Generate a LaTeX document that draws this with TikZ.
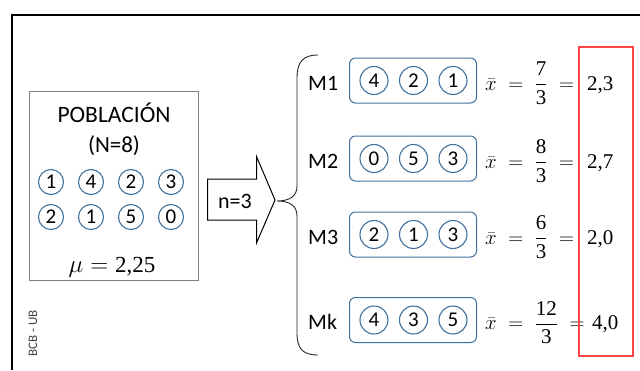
\documentclass[tikz,border=0pt]{standalone}
\usepackage{amsmath}
\usepackage{fontspec}
\setmainfont{Carlito}
\newfontfamily\xifres{Liberation Serif}
\usepackage{tikz}
\usetikzlibrary{calc}
\definecolor{bolablau}{HTML}{41719C}
\definecolor{marcvermell}{HTML}{FF4545}
\def\mida#1{\fontsize{#1}{#1}\selectfont}
\def\xf#1{\text{\xifres #1}}
\tikzset{
	bola/.style={circle, draw=bolablau, line width=1.1pt, minimum size=25pt, inner sep=0pt, font=\mida{21}},
	bolamostra/.style={bola, minimum size=28pt},
	caixamostra/.style={draw=bolablau, line width=1pt, rounded corners=6pt, minimum width=127pt, minimum height=45pt, inner sep=0pt},
	caixapob/.style={draw=black!50, line width=1pt, minimum width=169pt, minimum height=189pt, inner sep=0pt},
	txt/.style={inner sep=0pt, anchor=base, font=\mida{#1}},
	txtw/.style={inner sep=0pt, anchor=base west, font=\mida{#1}},
}

\begin{document}
\begin{tikzpicture}[x=1pt, y=-1pt]
			%%%%% START %%%%%
			\useasboundingbox (0, 0) rectangle (640, 370);
			
			\draw[line width=2pt] (12, 370) -- (12, 14.5) -- (640, 14.5);
			
			% poblacio
			\node[caixapob] (pob) at (113.5, 185.5) {};
			\node[txt=23.5] (titol) at (114, 122) {POBLACIÓN};
			\node[txt=23] (mida) at (114, 152) {(N=8)};
			\node[bola] (p1) at (51, 182) {1};
			\node[bola] (p2) at (91, 182) {4};
			\node[bola] (p3) at (131, 182) {2};
			\node[bola] (p4) at (171, 182) {3};
			\node[bola] (p5) at (51, 217) {2};
			\node[bola] (p6) at (91, 217) {1};
			\node[bola] (p7) at (131, 217) {5};
			\node[bola] (p8) at (171, 217) {0};
			\node[txt=23] (mu) at (112, 272) {$\mu = \xf{2,25}$};
			
			\node[txt=13, text=black!75, rotate=90] (bcb) at (37, 333.5) {BCB - UB};
			
			% fletxa
			\draw[line width=1pt] (207.5, 179) -- (256.5, 179) -- (256.5, 156.5) -- (275, 200)
				-- (256.5, 243) -- (256.5, 220) -- (207.5, 220) -- cycle;
			\node[txt=22] (n) at (235, 208) {n=3};
			
			% clau
			\draw[line width=0.9pt, black!85] (318, 55) .. controls (303, 55) and (297, 62) .. (297, 78)
				-- (297, 186) .. controls (297, 196) and (290, 201) .. (277, 201)
				.. controls (290, 201) and (297, 206) .. (297, 216)
				-- (297, 333) .. controls (297, 349) and (303, 355) .. (318, 355);
			
			% M1
			\node[txtw=22] (lm1) at (308, 90) {M1};
			\node[caixamostra] (cm1) at (413, 80.5) {};
			\node[bolamostra] (m1a) at (374, 80.5) {4};
			\node[bolamostra] (m1b) at (413.5, 80.5) {2};
			\node[bolamostra] (m1c) at (453, 80.5) {1};
			\node[txtw=21] (f1) at (485, 90) {$\bar{x} \;=\; \dfrac{\xf{7}}{\xf{3}}\; =$};
			\node[txtw=21] (v1) at (587, 90) {\xifres 2,3};
			
			% M2
			\node[txtw=22] (lm2) at (308, 168) {M2};
			\node[caixamostra] (cm2) at (413, 158.5) {};
			\node[bolamostra] (m2a) at (374, 158.5) {0};
			\node[bolamostra] (m2b) at (413.5, 158.5) {5};
			\node[bolamostra] (m2c) at (453, 158.5) {3};
			\node[txtw=21] (f2) at (485, 168) {$\bar{x} \;=\; \dfrac{\xf{8}}{\xf{3}}\; =$};
			\node[txtw=21] (v2) at (587, 168) {\xifres 2,7};
			
			% M3
			\node[txtw=22] (lm3) at (308, 244) {M3};
			\node[caixamostra] (cm3) at (413, 234.5) {};
			\node[bolamostra] (m3a) at (374, 234.5) {2};
			\node[bolamostra] (m3b) at (413.5, 234.5) {1};
			\node[bolamostra] (m3c) at (453, 234.5) {3};
			\node[txtw=21] (f3) at (485, 244) {$\bar{x} \;=\; \dfrac{\xf{6}}{\xf{3}}\; =$};
			\node[txtw=21] (v3) at (587, 244) {\xifres 2,0};
			
			% Mk
			\node[txtw=22] (lmk) at (308, 329.5) {Mk};
			\node[caixamostra] (cmk) at (413, 320) {};
			\node[bolamostra] (mka) at (374, 320) {4};
			\node[bolamostra] (mkb) at (413.5, 320) {3};
			\node[bolamostra] (mkc) at (453, 320) {5};
			\node[txtw=21] (fk) at (485, 329.5) {$\bar{x} \;=\; \dfrac{\xf{12}}{\xf{3}}\; =$};
			\node[txtw=21] (vk) at (592, 329.5) {\xifres 4,0};
			
			\draw[line width=1.3pt, marcvermell] (579, 47) rectangle (633, 356);
			
			%%%%% END %%%%%
\end{tikzpicture}
\end{document}
